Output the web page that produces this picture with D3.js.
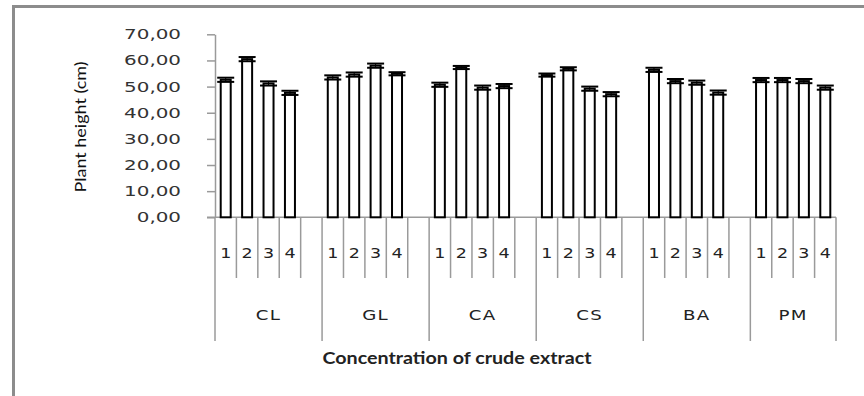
<!DOCTYPE html>
<html>
<head>
<meta charset="utf-8">
<script src="https://cdn.jsdelivr.net/npm/d3@7"></script>
<style>
  html, body { margin: 0; padding: 0; background: #fff; }
  svg { display: block; }
</style>
</head>
<body>
<svg id="chart" width="864" height="396"></svg>
<script>
// Crude extracts (groups) and concentration levels within each group
const extracts = ["CL", "GL", "CA", "CS", "BA", "PM"];
const levels = ["1", "2", "3", "4"];

// Mean plant height (cm) per extract, one value per concentration level
const heightCL = [52.6, 60.5, 51.2, 47.6];
const heightGL = [53.5, 54.6, 58.0, 54.9];
const heightCA = [50.7, 57.3, 49.6, 50.2];
const heightCS = [54.4, 56.8, 49.2, 47.1];
const heightBA = [56.4, 52.1, 51.5, 47.7];
const heightPM = [52.5, 52.5, 52.1, 49.6];

// Standard error per bar
const errCL = [0.8, 0.8, 0.8, 0.8];
const errGL = [0.8, 0.8, 0.8, 0.6];
const errCA = [0.8, 0.6, 0.8, 0.8];
const errCS = [0.6, 0.6, 0.8, 0.8];
const errBA = [0.8, 0.8, 0.8, 0.8];
const errPM = [0.8, 0.8, 0.8, 0.8];

const yTicks = [0, 10, 20, 30, 40, 50, 60, 70];

const heights = [heightCL, heightGL, heightCA, heightCS, heightBA, heightPM];
const errors = [errCL, errGL, errCA, errCS, errBA, errPM];

// Category slots: each group has its levels plus an empty spacer slot (except the last)
const slots = [];
const rows = [];
extracts.forEach((g, gi) => {
  levels.forEach((l, li) => {
    const key = g + "-" + l;
    slots.push(key);
    rows.push({ key, group: g, level: l, value: heights[gi][li], err: errors[gi][li] });
  });
  if (gi < extracts.length - 1) slots.push(g + "-gap");
});

const svg = d3.select("#chart");

// Outer chart frame
svg.append("path")
  .attr("d", "M13.5,400 V6.5 H870")
  .attr("fill", "none")
  .attr("stroke", "#8c8c8c")
  .attr("stroke-width", 3);

const x = d3.scaleBand().domain(slots).range([215, 836]).paddingInner(0).paddingOuter(0);
const y = d3.scaleLinear().domain([0, 70]).range([217.3, 34.3]);

const locale = d3.formatLocale({ decimal: ",", thousands: ".", grouping: [3], currency: ["", ""] });
const fmt = locale.format(".2f");

// Labels in this chart use a horizontally widened face
const stretch = 1.42;

// Y axis
const yAxis = svg.append("g")
  .attr("transform", "translate(215,0)")
  .call(d3.axisLeft(y).tickValues(yTicks).tickFormat(fmt).tickSizeInner(8).tickSizeOuter(0).tickPadding(26));
yAxis.select(".domain").attr("stroke", "#9a9a9a").attr("stroke-width", 1.5);
yAxis.selectAll(".tick line").attr("stroke", "#9a9a9a").attr("stroke-width", 1.5);
yAxis.selectAll(".tick text")
  .attr("x", -34 / stretch)
  .attr("transform", `scale(${stretch},1)`)
  .attr("fill", "#333")
  .style("font-family", "'DejaVu Sans', Verdana, sans-serif")
  .style("font-size", "14px");

// Y axis title
svg.append("text")
  .attr("transform", "translate(79,127) rotate(-90)")
  .attr("text-anchor", "middle")
  .attr("dominant-baseline", "central")
  .attr("textLength", 131)
  .attr("lengthAdjust", "spacingAndGlyphs")
  .style("font-family", "Lato, 'Open Sans', sans-serif")
  .style("font-size", "16px")
  .attr("fill", "#111")
  .text("Plant height (cm)");

// Category axis: baseline plus multi-level divider lines
const axisG = svg.append("g").attr("stroke", "#9a9a9a").attr("stroke-width", 1.5);
axisG.append("line")
  .attr("x1", 207).attr("x2", x.range()[1])
  .attr("y1", y(0)).attr("y2", y(0));

// Inner dividers between levels (short)
slots.forEach((s, i) => {
  if (i === 0 || s.endsWith("-1")) return;
  axisG.append("line")
    .attr("x1", x(s)).attr("x2", x(s))
    .attr("y1", y(0)).attr("y2", 278);
});
// Group dividers (long)
const groupEdges = extracts.map(g => x(g + "-1"));
groupEdges.push(x.range()[1]);
groupEdges.forEach(xe => {
  axisG.append("line")
    .attr("x1", xe).attr("x2", xe)
    .attr("y1", y(0)).attr("y2", 341);
});

// Level labels
svg.append("g").selectAll("text")
  .data(rows)
  .join("text")
  .attr("transform", d => `translate(${x(d.key) + x.bandwidth() / 2},253) scale(1.25,1)`)
  .attr("text-anchor", "middle")
  .attr("dominant-baseline", "central")
  .style("font-family", "'DejaVu Sans', sans-serif")
  .style("font-size", "14px")
  .attr("fill", "#222")
  .text(d => d.level);

// Group labels
svg.append("g").selectAll("text")
  .data(extracts)
  .join("text")
  .attr("transform", (g, i) => `translate(${(groupEdges[i] + groupEdges[i + 1]) / 2},315) scale(1.3,1)`)
  .attr("text-anchor", "middle")
  .attr("dominant-baseline", "central")
  .style("font-family", "'DejaVu Sans', sans-serif")
  .style("font-size", "14px")
  .style("letter-spacing", "1px")
  .attr("fill", "#222")
  .text(g => g);

// X axis title
svg.append("text")
  .attr("x", 457)
  .attr("y", 357)
  .attr("text-anchor", "middle")
  .attr("dominant-baseline", "central")
  .attr("textLength", 269)
  .attr("lengthAdjust", "spacingAndGlyphs")
  .style("font-family", "Lato, 'Open Sans', sans-serif")
  .style("font-size", "17px")
  .style("font-weight", "700")
  .attr("fill", "#222")
  .text("Concentration of crude extract");

// Bars
const barW = 10;
svg.append("g").selectAll("rect")
  .data(rows)
  .join("rect")
  .attr("x", d => x(d.key) + x.bandwidth() / 2 - barW / 2)
  .attr("y", d => y(d.value))
  .attr("width", barW)
  .attr("height", d => y(0) - y(d.value))
  .attr("fill", "#fff")
  .attr("stroke", "#000")
  .attr("stroke-width", 2);

// Error bars with caps
const capW = 17;
const eb = svg.append("g").attr("stroke", "#000").attr("stroke-width", 2);
rows.forEach(d => {
  const cx = x(d.key) + x.bandwidth() / 2;
  eb.append("line")
    .attr("x1", cx).attr("x2", cx)
    .attr("y1", y(d.value + d.err)).attr("y2", y(d.value - d.err))
    .attr("stroke-width", 1);
  [d.value + d.err, d.value - d.err].forEach(v => {
    eb.append("line")
      .attr("x1", cx - capW / 2).attr("x2", cx + capW / 2)
      .attr("y1", y(v)).attr("y2", y(v));
  });
});
</script>
</body>
</html>
